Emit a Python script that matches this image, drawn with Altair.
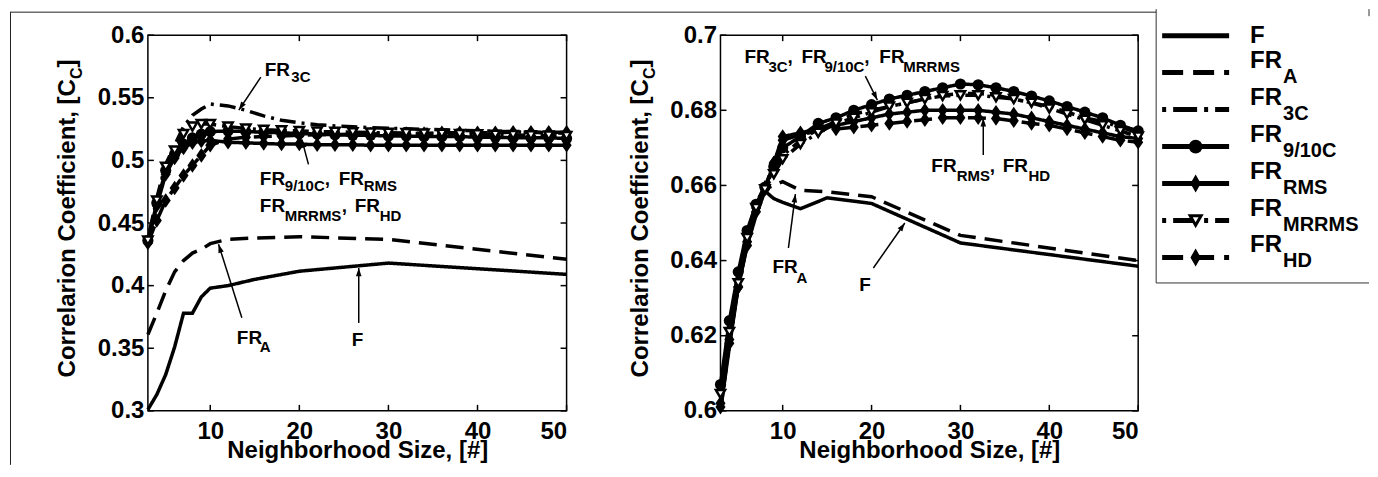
import math
import altair as alt
import pandas as pd

FONT = "Liberation Sans"
SERIES = ["F", "FR_A", "FR_3C", "FR_9/10C", "FR_RMS", "FR_MRRMS", "FR_HD"]
N_F = [3, 4, 5, 6, 7, 8, 9, 10, 12, 15, 20, 30, 50]
N_FR = [3, 4, 5, 6, 7, 8, 9, 10, 12, 14, 16, 18, 20, 22, 24, 26, 28, 30,
        32, 34, 36, 38, 40, 42, 44, 46, 48, 50]

X_TICKS = [10, 20, 30, 40, 50]
L_Y_TICKS = [0.3, 0.35, 0.4, 0.45, 0.5, 0.55, 0.6]
R_Y_TICKS = [0.6, 0.62, 0.64, 0.66, 0.68, 0.7]

# ---------------- left panel values ----------------
L_F = [0.301, 0.313, 0.329, 0.351, 0.378, 0.378, 0.391, 0.398, 0.400, 0.405, 0.4115, 0.418, 0.409]
L_FRA = [0.361, 0.378, 0.396, 0.411, 0.420, 0.426, 0.429, 0.4335, 0.437, 0.438, 0.439, 0.437, 0.421]
L_3C = [0.437, 0.470, 0.497, 0.512, 0.527, 0.536, 0.541, 0.545,
        0.5435, 0.540, 0.5355, 0.532, 0.530, 0.5285, 0.5275, 0.5268, 0.5262, 0.5257,
        0.5252, 0.5248, 0.5244, 0.524, 0.5236, 0.5232, 0.5228, 0.5224, 0.522, 0.5217]
L_910 = [0.436, 0.466, 0.492, 0.505, 0.513, 0.518, 0.521, 0.523,
         0.5235, 0.523, 0.5225, 0.522, 0.5215, 0.521, 0.5205, 0.520, 0.520, 0.5195,
         0.5195, 0.519, 0.519, 0.519, 0.5185, 0.5185, 0.518, 0.518, 0.518, 0.5175]
L_RMS = [0.435, 0.464, 0.489, 0.502, 0.510, 0.514, 0.5155, 0.516,
         0.5145, 0.514, 0.5135, 0.513, 0.513, 0.5125, 0.5125, 0.5125, 0.512, 0.512,
         0.512, 0.512, 0.512, 0.512, 0.512, 0.512, 0.512, 0.512, 0.512, 0.512]
L_MRRMS = [0.436, 0.468, 0.495, 0.508, 0.521, 0.527, 0.529, 0.529,
           0.527, 0.5255, 0.5245, 0.524, 0.5235, 0.523, 0.5228, 0.5225, 0.5222, 0.522,
           0.5218, 0.5215, 0.5213, 0.521, 0.5208, 0.5205, 0.5203, 0.520, 0.5198, 0.5195]
L_HD = [0.434, 0.452, 0.468, 0.478, 0.488, 0.496, 0.504, 0.512,
        0.517, 0.5185, 0.519, 0.5195, 0.520, 0.5205, 0.5205, 0.521, 0.521, 0.5215,
        0.5215, 0.5215, 0.522, 0.522, 0.522, 0.522, 0.5225, 0.5225, 0.5225, 0.5225]

L_ANN_TEXT = ["FR", "3C",
              "FR", "9/10C", ",", "FR", "RMS",
              "FR", "MRRMS", ",", "FR", "HD",
              "FR", "A", "F"]
L_ANN_ROLE = ["m", "s", "m", "s", "m", "m", "s", "m", "s", "m", "m", "s", "m", "s", "m"]
L_ANN_N = [16.12, 19.10,
           15.563, 18.368, 22.854, 24.425, 27.229,
           15.563, 18.368, 24.761, 26.219, 29.024,
           12.983, 15.563, 25.883]
L_ANN_V = [0.5673, 0.5625,
           0.4803, 0.4755, 0.4803, 0.4803, 0.4755,
           0.4588, 0.4516, 0.4588, 0.4588, 0.4516,
           0.35345, 0.3470, 0.35185]
L_ARR_N0 = [15.675, 21.026, 13.544, 26.668]
L_ARR_V0 = [0.5665, 0.4968, 0.3744, 0.3702]
L_ARR_N1 = [13.208, 20.274, 10.93, 26.668]
L_ARR_V1 = [0.5402, 0.5168, 0.4330, 0.4141]

# ---------------- right panel values ----------------
R_F = [0.600, 0.617, 0.633, 0.644, 0.652, 0.6585, 0.6565, 0.6555, 0.6538, 0.6567, 0.6552, 0.6447, 0.6385]
R_FRA = [0.600, 0.618, 0.634, 0.645, 0.653, 0.659, 0.660, 0.661, 0.6587, 0.6583, 0.657, 0.6467, 0.640]
R_3C = [0.606, 0.623, 0.636, 0.647, 0.655, 0.660, 0.664, 0.668,
        0.672, 0.675, 0.677, 0.679, 0.680, 0.681, 0.682, 0.683, 0.684, 0.6845,
        0.6845, 0.684, 0.683, 0.682, 0.681, 0.6795, 0.678, 0.677, 0.6755, 0.674]
R_910 = [0.607, 0.624, 0.637, 0.648, 0.655, 0.6595, 0.665, 0.670,
         0.673, 0.6765, 0.678, 0.680, 0.6815, 0.683, 0.684, 0.685, 0.686, 0.687,
         0.6868, 0.686, 0.685, 0.6838, 0.6825, 0.681, 0.6795, 0.678, 0.676, 0.6745]
R_RMS = [0.601, 0.618, 0.633, 0.644, 0.653, 0.659, 0.666, 0.673,
         0.674, 0.675, 0.676, 0.677, 0.678, 0.679, 0.6795, 0.680, 0.680, 0.680,
         0.680, 0.6795, 0.679, 0.678, 0.677, 0.676, 0.675, 0.674, 0.673, 0.6725]
R_MRRMS = [0.6045, 0.621, 0.634, 0.646, 0.654, 0.659, 0.663, 0.667,
           0.671, 0.674, 0.6765, 0.678, 0.6795, 0.681, 0.682, 0.683, 0.6838, 0.684,
           0.684, 0.6835, 0.683, 0.682, 0.6805, 0.679, 0.6775, 0.676, 0.6745, 0.673]
R_HD = [0.602, 0.619, 0.633, 0.645, 0.654, 0.6595, 0.666, 0.672,
        0.6735, 0.6745, 0.675, 0.6755, 0.676, 0.6765, 0.677, 0.6775, 0.678, 0.678,
        0.678, 0.6778, 0.6772, 0.6765, 0.676, 0.675, 0.674, 0.673, 0.672, 0.6715]

R_ANN_TEXT = ["FR", "3C", ",", "FR", "9/10C", ",", "FR", "MRRMS",
              "FR", "RMS", ",", "FR", "HD",
              "FR", "A", "F"]
R_ANN_ROLE = ["m", "s", "m", "m", "s", "m", "m", "s", "m", "s", "m", "m", "s", "m", "s", "m"]
R_ANN_N = [5.699, 8.397, 10.533, 12.107, 14.693, 19.190, 20.877, 23.575,
           26.724, 29.591, 33.301, 34.75, 37.65,
           8.847, 11.545, 18.629]
R_ANN_V = [0.69255, 0.69016, 0.69255, 0.69255, 0.69016, 0.69255, 0.69255, 0.69016,
           0.66356, 0.66117, 0.66356, 0.66356, 0.66117,
           0.6367, 0.63404, 0.63191]
R_ARR_N0 = [19.303, 32.571, 10.645, 20.203]
R_ARR_V0 = [0.6891, 0.6681, 0.64335, 0.63803]
R_ARR_N1 = [20.652, 32.571, 11.433, 23.744]
R_ARR_V1 = [0.68271, 0.67793, 0.65771, 0.6500]

# ---------------- legend ----------------
LEG_MAIN = ["F", "FR", "FR", "FR", "FR", "FR", "FR"]
LEG_SUB = ["", "A", "3C", "9/10C", "RMS", "MRRMS", "HD"]

Y_TITLE_MAIN = "Correlarion Coefficient, [C"
Y_TITLE_SUB = "C"
Y_TITLE_END = "]"
X_TITLE = "Neighborhood Size, [#]"

# ---------------- styles ----------------
H = 376
W_L, W_R = 419, 418
DIAMOND = "M0,-1.3L0.9,0L0,1.3L-0.9,0Z"
LEG_DIAMOND = "M0,-1.3L0.75,0L0,1.3L-0.75,0Z"
HEAD = "M0,0L0.8,2.4L-0.8,2.4Z"
DASHES = [[1, 0], [18, 9], [3, 6, 16, 6], [1, 0], [1, 0], [3, 6, 16, 6], [18, 9]]
LEG_DASHES = [[1, 0], [21, 10], [4, 7, 24, 7], [1, 0], [1, 0], [4, 7, 24, 7], [21, 10]]
FILLED = ["FR_9/10C", "FR_RMS", "FR_HD"]


def one(text):
    return pd.DataFrame({"t": [text]})


def panel(W, ydom, yticks, fvals, favals, frvals, ann, arr, frame=False):
    rows = []
    for n, v in zip(N_F, fvals):
        rows.append({"n": n, "v": v, "s": "F"})
    for n, v in zip(N_F, favals):
        rows.append({"n": n, "v": v, "s": "FR_A"})
    for name, vals in frvals.items():
        for n, v in zip(N_FR, vals):
            rows.append({"n": n, "v": v, "s": name})
    df = pd.DataFrame(rows)

    xs = alt.Scale(domain=[3, 50], nice=False, zero=False)
    ys = alt.Scale(domain=ydom, nice=False, zero=False)
    xax = alt.Axis(values=X_TICKS, title=X_TITLE)
    yax = alt.Axis(values=yticks, title=None, format="~g")

    def X(f):
        return alt.X(f, type="quantitative", scale=xs, axis=xax)

    def Y(f):
        return alt.Y(f, type="quantitative", scale=ys, axis=yax)

    lines = alt.Chart(df).mark_line(strokeWidth=3.5, color="black", clip=False).encode(
        x=X("n"), y=Y("v"),
        strokeDash=alt.StrokeDash("s:N", scale=alt.Scale(domain=SERIES, range=DASHES), legend=None),
        detail="s:N",
    )
    filled = alt.Chart(df).transform_filter(
        alt.FieldOneOfPredicate(field="s", oneOf=FILLED)
    ).mark_point(filled=True, color="black", size=125, opacity=1).encode(
        x=X("n"), y=Y("v"),
        shape=alt.Shape("s:N", scale=alt.Scale(domain=FILLED, range=["circle", DIAMOND, DIAMOND]), legend=None),
    )
    opent = alt.Chart(df).transform_filter(alt.datum.s == "FR_MRRMS").mark_point(
        shape="triangle-down", filled=True, fill="white", stroke="black", strokeWidth=2.5, size=85, opacity=1
    ).encode(x=X("n"), y=Y("v"))

    at, ar, an, av = ann
    adf = pd.DataFrame({"t": at, "r": ar, "n": an, "v": av})
    tmain = alt.Chart(adf).transform_filter(alt.datum.r == "m").mark_text(
        font=FONT, fontSize=19, fontWeight="bold", align="left", baseline="alphabetic", color="black"
    ).encode(x=X("n"), y=Y("v"), text="t:N")
    tsub = alt.Chart(adf).transform_filter(alt.datum.r == "s").mark_text(
        font=FONT, fontSize=15, fontWeight="bold", align="left", baseline="alphabetic", color="black"
    ).encode(x=X("n"), y=Y("v"), text="t:N")

    n0, v0, n1, v1 = arr
    pxn = W / 47.0
    pxv = H / (ydom[1] - ydom[0])
    angs = []
    for a, b, c, d in zip(n0, v0, n1, v1):
        dx = (c - a) * pxn
        dy = -(d - b) * pxv
        angs.append(math.degrees(math.atan2(dx, -dy)) % 360)
    ardf = pd.DataFrame({"n0": n0, "v0": v0, "n1": n1, "v1": v1, "ang": angs})
    arule = alt.Chart(ardf).mark_rule(strokeWidth=1.5, color="black").encode(
        x=X("n0"), y=Y("v0"), x2="n1", y2="v1"
    )
    ahead = alt.Chart(ardf).mark_point(shape=HEAD, filled=True, color="black", size=49, opacity=1).encode(
        x=X("n1"), y=Y("v1"), angle=alt.Angle("ang:Q", scale=None)
    )

    xt = pd.DataFrame({"t": X_TICKS})
    yt = pd.DataFrame({"t": yticks})
    tk = dict(color="black", strokeWidth=1.5)
    xtb = alt.Chart(xt).mark_rule(**tk).encode(x=X("t"), y=alt.value(H), y2=alt.value(H - 6))
    xtt = alt.Chart(xt).mark_rule(**tk).encode(x=X("t"), y=alt.value(0), y2=alt.value(6))
    ytl = alt.Chart(yt).mark_rule(**tk).encode(y=Y("t"), x=alt.value(0), x2=alt.value(6))
    ytr = alt.Chart(yt).mark_rule(**tk).encode(y=Y("t"), x=alt.value(W - 6), x2=alt.value(W))

    tsty = dict(font=FONT, fontWeight="bold", angle=270, baseline="alphabetic", color="black")
    yt1 = alt.Chart(one(Y_TITLE_MAIN)).mark_text(align="right", fontSize=24, **tsty).encode(
        x=alt.value(-72.5), y=alt.value(44), text="t:N")
    yt2 = alt.Chart(one(Y_TITLE_SUB)).mark_text(align="left", fontSize=16, **tsty).encode(
        x=alt.value(-65.5), y=alt.value(44), text="t:N")
    yt3 = alt.Chart(one(Y_TITLE_END)).mark_text(align="left", fontSize=24, **tsty).encode(
        x=alt.value(-72.5), y=alt.value(32.4), text="t:N")

    layers = [lines, filled, opent, arule, ahead, tmain, tsub, xtb, xtt, ytl, ytr, yt1, yt2, yt3]
    if frame:
        fdf = one("")
        ftop = alt.Chart(fdf).mark_rule(color="#222", strokeWidth=1).encode(
            x=alt.value(-138), x2=alt.value(1009), y=alt.value(-23))
        fleft = alt.Chart(fdf).mark_rule(color="#222", strokeWidth=1).encode(
            x=alt.value(-137.5), y=alt.value(-23), y2=alt.value(430))
        layers += [ftop, fleft]
    return alt.layer(*layers).properties(width=W, height=H)


left = panel(W_L, [0.3, 0.6], L_Y_TICKS, L_F, L_FRA,
             {"FR_3C": L_3C, "FR_9/10C": L_910, "FR_RMS": L_RMS, "FR_MRRMS": L_MRRMS, "FR_HD": L_HD},
             (L_ANN_TEXT, L_ANN_ROLE, L_ANN_N, L_ANN_V),
             (L_ARR_N0, L_ARR_V0, L_ARR_N1, L_ARR_V1), frame=True)
right = panel(W_R, [0.6, 0.7], R_Y_TICKS, R_F, R_FRA,
              {"FR_3C": R_3C, "FR_9/10C": R_910, "FR_RMS": R_RMS, "FR_MRRMS": R_MRRMS, "FR_HD": R_HD},
              (R_ANN_TEXT, R_ANN_ROLE, R_ANN_N, R_ANN_V),
              (R_ARR_N0, R_ARR_V0, R_ARR_N1, R_ARR_V1))

# ---------------- legend panel ----------------
ldf = pd.DataFrame({"s": SERIES, "i": list(range(len(SERIES))), "m": LEG_MAIN, "sub": LEG_SUB})
LY = alt.Y("i:Q", scale=alt.Scale(domain=[0, 6], range=[0.5, 222.5]), axis=None)
llines = alt.Chart(ldf).mark_rule(strokeWidth=5, color="black").encode(
    x=alt.value(-130), x2=alt.value(-63), y=LY,
    strokeDash=alt.StrokeDash("s:N", scale=alt.Scale(domain=SERIES, range=LEG_DASHES), legend=None),
)
lfilled = alt.Chart(ldf).transform_filter(
    alt.FieldOneOfPredicate(field="s", oneOf=FILLED)
).mark_point(filled=True, color="black", size=190, opacity=1).encode(
    x=alt.value(-96.5), y=LY,
    shape=alt.Shape("s:N", scale=alt.Scale(domain=FILLED, range=["circle", LEG_DIAMOND, LEG_DIAMOND]), legend=None),
)
lopen = alt.Chart(ldf).transform_filter(alt.datum.s == "FR_MRRMS").mark_point(
    shape="triangle-down", filled=True, fill="white", stroke="black", strokeWidth=3, size=120, opacity=1
).encode(x=alt.value(-96.5), y=LY)
lsty = dict(font=FONT, fontWeight="bold", align="left", baseline="alphabetic", color="black")
lmain = alt.Chart(ldf).transform_filter(alt.datum.sub != "").mark_text(fontSize=24, dy=-5, **lsty).encode(
    x=alt.value(-42), y=LY, text="m:N")
lsub = alt.Chart(ldf).transform_filter(alt.datum.sub != "").mark_text(fontSize=20, dy=10, **lsty).encode(
    x=alt.value(-9), y=LY, text="sub:N")
lf = alt.Chart(ldf).transform_filter(alt.datum.sub == "").mark_text(fontSize=24, dy=7.5, **lsty).encode(
    x=alt.value(-42), y=LY, text="m:N")
bdf = one("")
bleft = alt.Chart(bdf).mark_rule(color="#333", strokeWidth=1).encode(
    x=alt.value(-136), y=alt.value(-26), y2=alt.value(248))
bbottom = alt.Chart(bdf).mark_rule(color="#333", strokeWidth=1).encode(
    x=alt.value(-136), x2=alt.value(77), y=alt.value(248))
bright = alt.Chart(bdf).mark_rule(color="#333", strokeWidth=1).encode(
    x=alt.value(77), y=alt.value(-26), y2=alt.value(-19))
leg = alt.layer(llines, lfilled, lopen, lmain, lsub, lf, bleft, bbottom, bright).properties(
    width=70, height=H, view=alt.ViewBackground(strokeOpacity=0))

chart = alt.hconcat(left, right, leg, spacing=154, bounds="flush", padding=0).resolve_scale(
    x="independent", y="independent", strokeDash="independent", shape="independent"
).configure(font=FONT).configure_view(stroke="black", strokeWidth=1.5).configure_axis(
    labelFont=FONT, titleFont=FONT, labelFontSize=24, titleFontSize=24,
    labelFontWeight="bold", titleFontWeight="bold", labelColor="black", titleColor="black",
    grid=False, domain=False, ticks=False, tickSize=0,
).configure_axisX(labelPadding=9, titlePadding=-5).configure_axisY(labelPadding=4)

chart.save("out.html", embed_options={"renderer": "svg", "actions": False})
